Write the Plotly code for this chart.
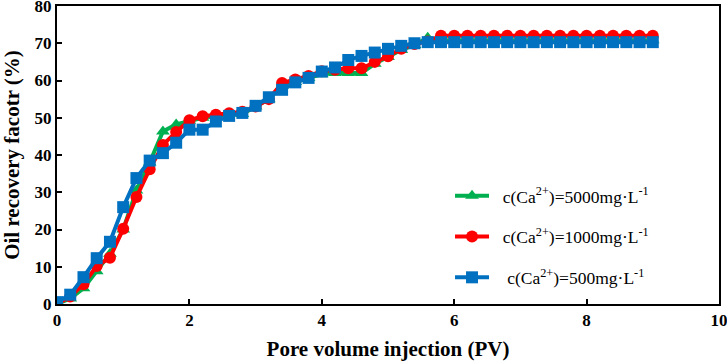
import plotly.graph_objects as go

pv = [round(0.2 * i, 1) for i in range(46)]

rec_5000 = [0, 1.5, 4.2, 8.8, 13.5, 20, 30.5, 38, 46.3, 48.2, 49.2, 50, 50.5, 51, 51,
            53, 55, 58.5, 59.6, 60.7, 61.7, 62, 62, 62, 64.5, 66.3, 68.2, 69.5, 71.5,
            70.8, 70.8, 70.8, 70.8, 70.8, 70.8, 70.8, 70.8, 70.8, 70.8, 70.8, 70.8,
            70.8, 70.8, 70.8, 70.8, 70.8]
rec_1000 = [0, 2, 5.3, 10.2, 12.4, 20.2, 28.7, 36.2, 42.7, 46.2, 49.3, 50.4, 50.8, 51.2,
            51.6, 53, 55, 59.3, 60.3, 61.2, 62.5, 62.9, 63.3, 63.3, 65, 66.5, 68.5, 69.8,
            70.5, 72, 72, 72, 72, 72, 72, 72, 72, 72, 72, 72, 72, 72, 72, 72, 72, 72]
rec_500 = [0.5, 2.5, 7.2, 12.3, 16.7, 26, 33.8, 38.5, 40.5, 43.3, 46.8, 46.8, 49, 50.5,
           51.3, 53.2, 55.5, 57.5, 59.5, 60.7, 62.4, 63.5, 65.5, 66.6, 67.5, 68.5, 69.3,
           70, 70.3, 70.3, 70.3, 70.3, 70.3, 70.3, 70.3, 70.3, 70.3, 70.3, 70.3, 70.3,
           70.3, 70.3, 70.3, 70.3, 70.3, 70.3]

names = ["&nbsp;&nbsp;c(Ca<sup>2+</sup>)=5000mg·L<sup>-1</sup>",
         "&nbsp;&nbsp;c(Ca<sup>2+</sup>)=1000mg·L<sup>-1</sup>",
         "&nbsp;&nbsp;&nbsp;c(Ca<sup>2+</sup>)=500mg·L<sup>-1</sup>"]

series = [rec_5000, rec_1000, rec_500]
colors = ["#00B050", "#FF0000", "#0070C0"]
symbols = ["triangle-up", "circle", "square"]
sizes = [12, 12, 12]

fig = go.Figure()
for i, (ys, c, s, sz, n) in enumerate(zip(series, colors, symbols, sizes, names)):
    fig.add_trace(go.Scatter(
        x=pv, y=ys, mode="lines+markers", name=n, legendgroup=str(i),
        line=dict(color=c, width=4),
        marker=dict(symbol=s, size=sz, color=c),
    ))

font_family = "Liberation Serif"
fig.update_layout(
    width=727, height=361,
    margin=dict(l=57, r=8, t=6, b=57, autoexpand=False),
    plot_bgcolor="white", paper_bgcolor="white",
    font=dict(family=font_family, color="black"),
    showlegend=True,
    legend=dict(x=0.5937, y=0.423, xanchor="left", yanchor="top",
                font=dict(family=font_family, size=17.5, color="black"),
                tracegroupgap=15, traceorder="grouped",
                bgcolor="rgba(0,0,0,0)", itemwidth=34),
)
fig.update_xaxes(
    range=[0, 10], dtick=2, tick0=0, automargin=False,
    showline=True, linecolor="black", linewidth=2, mirror=True,
    ticks="inside", ticklen=5, tickwidth=2, tickcolor="black",
    showgrid=False, zeroline=False, ticklabeloverflow="allow",
    tickprefix="<b>", ticksuffix="</b>",
    tickfont=dict(family=font_family, size=17, color="black"),
    title=dict(text="<b>Pore volume injection (PV)</b>",
               font=dict(family=font_family, size=21, color="black")),
)
fig.update_yaxes(
    range=[0, 80], dtick=10, automargin=False,
    showline=True, linecolor="black", linewidth=2, mirror=True,
    ticks="inside", ticklen=5, tickwidth=2, tickcolor="black",
    showgrid=False, zeroline=False, ticklabeloverflow="allow",
    tickprefix="<b>", ticksuffix="</b>",
    tickfont=dict(family=font_family, size=17, color="black"),
    title=dict(text="<b>Oil recovery facotr (%)</b>",
               font=dict(family=font_family, size=21, color="black")),
)

fig.write_html("out.html", config={"displayModeBar": False},
               post_script="document.body.style.margin='0';document.body.style.padding='0';")
